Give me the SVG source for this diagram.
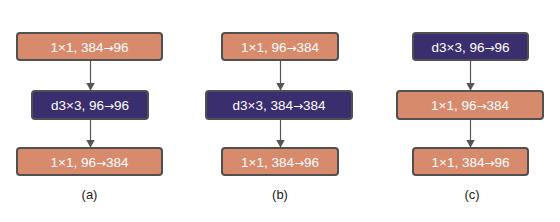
<svg xmlns="http://www.w3.org/2000/svg" width="560" height="222" viewBox="0 0 560 222">
<defs>
<style>
.o{fill:#D88A6C;stroke:#505050;stroke-width:2}
.p{fill:#3A2E6E;stroke:#505050;stroke-width:2}
.t{font-family:"Liberation Sans",Arial,sans-serif;font-size:13.5px;fill:#fff;text-anchor:middle}
.a{font-family:"DejaVu Sans",sans-serif;font-size:12px}
.l{font-family:"Liberation Sans",Arial,sans-serif;font-size:13px;fill:#222;text-anchor:middle}
.c{stroke:#555;stroke-width:1.2;fill:none;marker-end:url(#ah)}
</style>
<marker id="ah" viewBox="0 0 8 9" refX="8" refY="4.5" markerWidth="8" markerHeight="9" markerUnits="userSpaceOnUse" orient="auto"><path d="M0,0 L8,4.5 L0,9 z" fill="#555"/></marker>
</defs>
<g id="connectors">
<path class="c" d="M90.5,61 V90.5"/>
<path class="c" d="M90.5,120 V147.5"/>
<path class="c" d="M280.5,61 V90.5"/>
<path class="c" d="M280.5,120 V147.5"/>
<path class="c" d="M470.5,61 V90.5"/>
<path class="c" d="M470.5,120 V147.5"/>
</g>
<g id="a1"><rect class="o" x="17" y="33" width="145" height="27" rx="3"/><text class="t" x="89.5" y="51.5">1×1, 384<tspan class="a">→</tspan>96</text></g>
<g id="a2"><rect class="p" x="32" y="91" width="116" height="28" rx="3"/><text class="t" x="90" y="109.5">d3×3, 96<tspan class="a">→</tspan>96</text></g>
<g id="a3"><rect class="o" x="17" y="148" width="145" height="27" rx="3"/><text class="t" x="89.5" y="166.5">1×1, 96<tspan class="a">→</tspan>384</text></g>
<g id="b1"><rect class="o" x="222" y="33" width="116" height="27" rx="3"/><text class="t" x="280" y="51.5">1×1, 96<tspan class="a">→</tspan>384</text></g>
<g id="b2"><rect class="p" x="206" y="91" width="146" height="28" rx="3"/><text class="t" x="279" y="109.5">d3×3, 384<tspan class="a">→</tspan>384</text></g>
<g id="b3"><rect class="o" x="222" y="148" width="116" height="27" rx="3"/><text class="t" x="280" y="166.5">1×1, 384<tspan class="a">→</tspan>96</text></g>
<g id="c1"><rect class="p" x="413" y="33" width="115" height="27" rx="3"/><text class="t" x="470.5" y="51.5">d3×3, 96<tspan class="a">→</tspan>96</text></g>
<g id="c2"><rect class="o" x="397" y="91" width="146" height="28" rx="3"/><text class="t" x="470" y="109.5">1×1, 96<tspan class="a">→</tspan>384</text></g>
<g id="c3"><rect class="o" x="413" y="148" width="115" height="27" rx="3"/><text class="t" x="470.5" y="166.5">1×1, 384<tspan class="a">→</tspan>96</text></g>
<text class="l" x="89.5" y="198.5">(a)</text>
<text class="l" x="280" y="198.5">(b)</text>
<text class="l" x="472" y="198.5">(c)</text>
</svg>
